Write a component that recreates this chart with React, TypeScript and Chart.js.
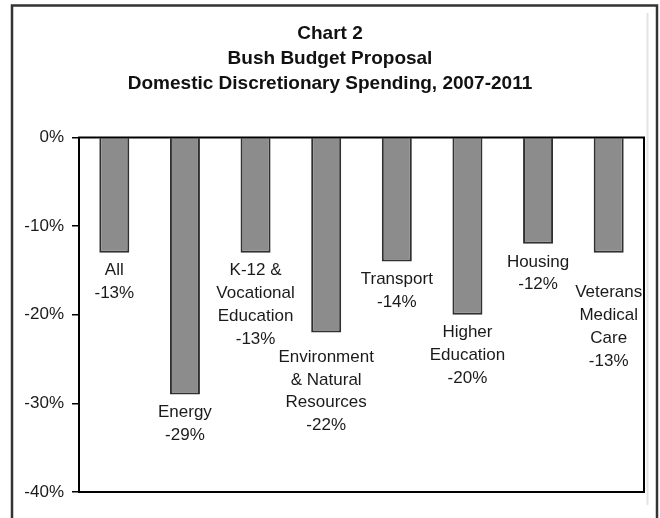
import React, { useEffect, useRef } from "react";
import { Chart, registerables } from "chart.js";

Chart.register(...registerables);

const titleLines = ["Chart 2", "Bush Budget Proposal", "Domestic Discretionary Spending, 2007-2011"];
const categories = ["All", "Energy", "K-12 & Vocational Education", "Environment & Natural Resources", "Transport", "Higher Education", "Housing", "Veterans Medical Care"];
const labelLines = [
  ["All"],
  ["Energy"],
  ["K-12 &", "Vocational", "Education"],
  ["Environment", "& Natural", "Resources"],
  ["Transport"],
  ["Higher", "Education"],
  ["Housing"],
  ["Veterans", "Medical", "Care"],
];
const changes = [-13, -29, -13, -22, -14, -20, -12, -13];
const yTicks = [0, -10, -20, -30, -40];
// extra downward shift of each label, in text lines
const labelShift = [0, 0, 0, 0.3, 0, 0, 0, 0.97];

const FONT = "'Liberation Sans', Arial, Helvetica, sans-serif";

const framePlugin = {
  id: "framePlugin",
  beforeDraw(chart: any) {
    const ctx = chart.ctx;
    ctx.save();
    ctx.fillStyle = "#ffffff";
    ctx.fillRect(0, 0, chart.width, chart.height);
    ctx.strokeStyle = "#333333";
    ctx.lineWidth = 2.5;
    ctx.strokeRect(12, 5.5, 645, 540);
    ctx.strokeStyle = "#e4e4e4";
    ctx.lineWidth = 2;
    ctx.beginPath();
    ctx.moveTo(647.5, 13);
    ctx.lineTo(647.5, 505);
    ctx.stroke();
    ctx.restore();
  },
  afterDatasetsDraw(chart: any) {
    const ctx = chart.ctx;
    const a = chart.chartArea;
    ctx.save();
    ctx.strokeStyle = "#000000";
    ctx.lineWidth = 2;
    ctx.strokeRect(a.left, a.top, a.right - a.left, a.bottom - a.top);
    const meta = chart.getDatasetMeta(0);
    ctx.font = "17px " + FONT;
    ctx.fillStyle = "#1a1a1a";
    ctx.textAlign = "center";
    ctx.textBaseline = "middle";
    const lh = 22.7;
    meta.data.forEach((el: any, i: number) => {
      const lines = [...labelLines[i], changes[i] + "%"];
      const y0 = el.y + 18 + labelShift[i] * lh;
      lines.forEach((t, j) => ctx.fillText(t, el.x, y0 + j * lh));
    });
    ctx.restore();
  },
};

export default function App() {
  const ref = useRef<HTMLCanvasElement>(null);
  useEffect(() => {
    if (!ref.current) return;
    const chart = new Chart(ref.current, {
      type: "bar",
      data: {
        labels: categories,
        datasets: [
          {
            data: changes,
            backgroundColor: "#8c8c8c",
            borderColor: "#303030",
            borderWidth: 2,
            categoryPercentage: 1,
            barPercentage: 0.425,
          },
        ],
      },
      options: {
        responsive: false,
        animation: false,
        layout: { padding: { left: 0, right: 0, top: 0, bottom: 26 } },
        plugins: {
          legend: { display: false },
          tooltip: { enabled: false },
          title: {
            display: true,
            text: titleLines,
            color: "#111111",
            font: { family: FONT, size: 19, weight: "bold", lineHeight: 25 / 19 },
            padding: { top: 21.5, bottom: 41 },
          },
        },
        scales: {
          x: { display: false },
          y: {
            min: -40,
            max: 0,
            afterFit: (s: any) => {
              s.width = 79;
            },
            afterBuildTicks: (s: any) => {
              s.ticks = yTicks.map((v) => ({ value: v }));
            },
            border: { display: false },
            grid: { drawOnChartArea: false, drawTicks: true, tickLength: 7, tickColor: "#000000", lineWidth: 1.5 },
            ticks: {
              padding: 8,
              color: "#1a1a1a",
              font: { family: FONT, size: 17 },
              callback: (v: any) => v + "%",
            },
          },
          yRight: {
            position: "right",
            min: -40,
            max: 0,
            afterFit: (s: any) => {
              s.width = 16;
            },
            border: { display: false },
            grid: { display: false },
            ticks: { display: false },
          },
        },
      },
      plugins: [framePlugin],
    });
    return () => chart.destroy();
  }, []);
  return (
    <div style={{ position: "fixed", left: 0, top: 0, width: 660, height: 518, background: "#fff" }}>
      <canvas ref={ref} width={660} height={518} style={{ display: "block" }} />
    </div>
  );
}
